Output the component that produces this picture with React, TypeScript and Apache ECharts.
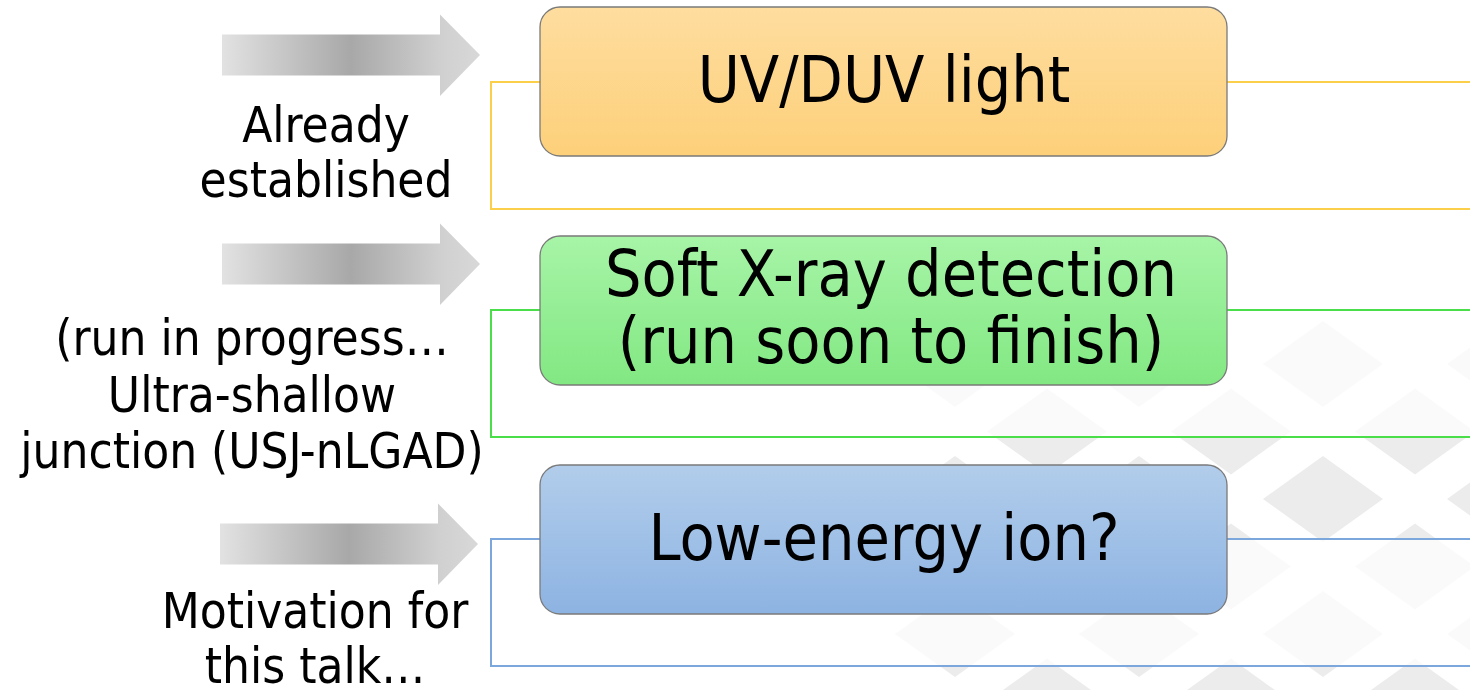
import React, { useEffect, useRef } from "react";
import * as echarts from "echarts";

// ---- content ----
const sideLabels: string[][] = [
  ["Already", "established"],
  ["(run in progress…", "Ultra-shallow", "junction (USJ-nLGAD)"],
  ["Motivation for", "this talk…"],
];
const boxTitles: string[][] = [
  ["UV/DUV light"],
  ["Soft X-ray detection", "(run soon to finish)"],
  ["Low-energy ion?"],
];

// ---- layout ----
const W = 1470;
const H = 690;
const FONT = '"DejaVu Sans Condensed", "DejaVu Sans", sans-serif';
const BOX_FS = 64;
const SIDE_FS = 49;
const ASC = 0.846; // baseline offset from top for top-aligned text
const boxTops = [7, 236, 465];
const boxX = 540;
const boxW = 687;
const boxH = 149;
const outlineTops = [82, 310, 539];
const outlineX = 491;
const outlineH = 127;
const arrowTips = [55, 264, 544];
const arrowX0 = [222, 222, 220];
const sideCenterX = [326, 252, 315];
const sideBaselines = [[142, 197], [355, 412, 468], [628, 683]];
const boxTextX = [884, 891, 884];
const boxBaselines = [[102], [296, 363], [560]];

const boxFills = [
  ["#fedd9f", "#fdd07a"],
  ["#a7f4a7", "#82e882"],
  ["#b2cdeb", "#8db3e2"],
];
const outlineColors = ["#fccf4a", "#4ade4a", "#7ba7dc"];

function App() {
  const ref = useRef<HTMLDivElement>(null);
  useEffect(() => {
    document.body.style.margin = "0";
    if (!ref.current) return;
    const chart = echarts.init(ref.current, null, { renderer: "svg" });
    const elements: any[] = [];

    // background diamond lattice
    const cx0 = 1323, cy0 = 499, dx = 92, dy = 67.5, hw = 60, hh = 43;
    for (let k = -2; k <= 3; k++) {
      for (let i = -6; i <= 4; i++) {
        const cx = cx0 + 184 * i + dx * k;
        const cy = cy0 + dy * k;
        if (cx < 900 || cx > W + hw) continue;
        elements.push({
          type: "polygon",
          z: 0,
          silent: true,
          shape: { points: [[cx, cy - hh], [cx + hw, cy], [cx, cy + hh], [cx - hw, cy]] },
          style: { fill: "#ececec" },
        });
      }
    }

    // outline rects
    outlineTops.forEach((y, i) => {
      elements.push({
        type: "rect",
        z: 1,
        shape: { x: outlineX, y, width: W - outlineX + 20, height: outlineH },
        style: { fill: "rgba(255,255,255,0.75)", stroke: outlineColors[i], lineWidth: 2 },
      });
    });

    // boxes
    boxTops.forEach((y, i) => {
      elements.push({
        type: "rect",
        z: 2,
        shape: { x: boxX, y, width: boxW, height: boxH, r: 20 },
        style: {
          fill: new echarts.graphic.LinearGradient(0, 0, 0, 1, [
            { offset: 0, color: boxFills[i][0] },
            { offset: 1, color: boxFills[i][1] },
          ]),
          stroke: "#7a7a7a",
          lineWidth: 1.3,
        },
      });
      boxTitles[i].forEach((t, j) => {
        elements.push({
          type: "text",
          z: 3,
          x: boxTextX[i],
          y: boxBaselines[i][j] - ASC * BOX_FS,
          style: {
            text: t,
            fill: "#000",
            font: `${BOX_FS}px ${FONT}`,
            align: "center",
            verticalAlign: "top",
          },
        });
      });
    });

    // arrows
    arrowTips.forEach((ty, i) => {
      const x0 = arrowX0[i];
      const xh = x0 + 218;
      const xt = x0 + 258;
      elements.push({
        type: "polygon",
        z: 2,
        shape: {
          points: [
            [x0, ty - 20.5], [xh, ty - 20.5], [xh, ty - 40.5], [xt, ty],
            [xh, ty + 41], [xh, ty + 20.5], [x0, ty + 20.5],
          ],
        },
        style: {
          fill: new echarts.graphic.LinearGradient(0, 0, 1, 0, [
            { offset: 0, color: "#e2e2e2" },
            { offset: 0.5, color: "#a8a8a8" },
            { offset: 0.85, color: "#d0d0d0" },
            { offset: 1, color: "#d8d8d8" },
          ]),
        },
      });
    });

    // side labels
    sideLabels.forEach((lines, i) => {
      lines.forEach((t, j) => {
        elements.push({
          type: "text",
          z: 3,
          x: sideCenterX[i],
          y: sideBaselines[i][j] - ASC * SIDE_FS,
          style: {
            text: t,
            fill: "#000",
            font: `${SIDE_FS}px ${FONT}`,
            align: "center",
            verticalAlign: "top",
          },
        });
      });
    });

    chart.setOption({
      animation: false,
      backgroundColor: "#ffffff",
      graphic: { elements },
    });
    return () => chart.dispose();
  }, []);
  return <div ref={ref} style={{ width: W, height: H }} />;
}

export default App;
